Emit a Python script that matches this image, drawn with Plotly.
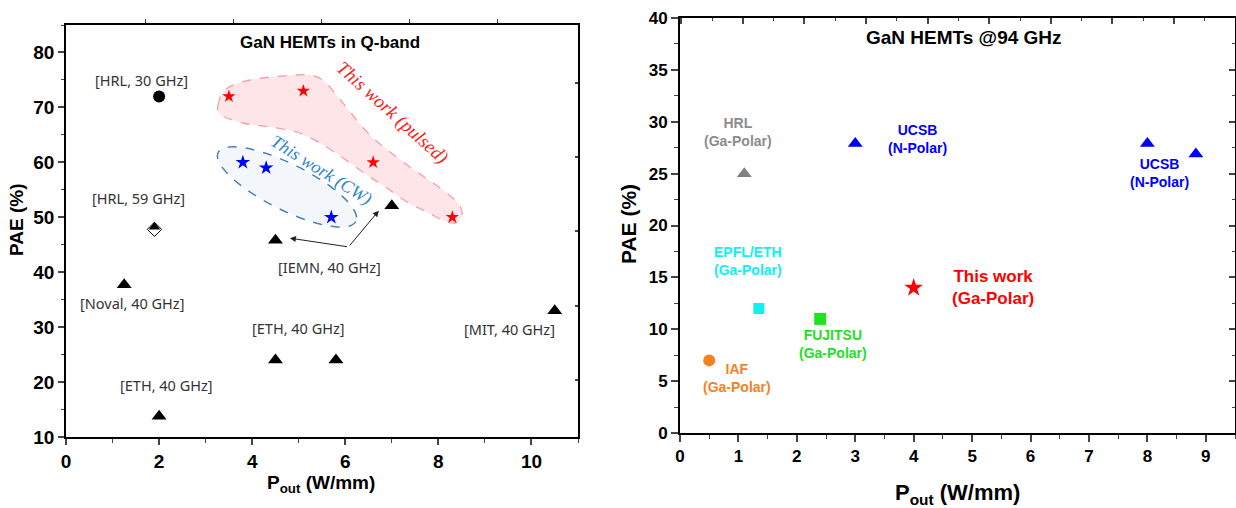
import math
import plotly.graph_objects as go

# ---------------- data: left chart (GaN HEMTs in Q-band) ----------------
hrl30_x = [2.0]
hrl30_y = [72.0]
hrl59_x = [1.9]
hrl59_y = [47.8]
noval_x = [1.25]
noval_y = [37.7]
eth_x = [2.0, 4.5, 5.8]
eth_y = [13.8, 24.0, 24.0]
iemn_x = [4.5, 7.0]
iemn_y = [45.8, 52.1]
mit_x = [10.5]
mit_y = [33.0]
pulsed_x = [3.5, 5.1, 6.6, 8.3]
pulsed_y = [72.0, 73.0, 60.0, 50.0]
cw_x = [3.8, 4.3, 5.7]
cw_y = [60.0, 59.0, 50.0]

left_labels = ["[HRL, 30 GHz]", "[HRL, 59 GHz]", "[Noval, 40 GHz]", "[ETH, 40 GHz]",
               "[ETH, 40 GHz]", "[IEMN, 40 GHz]", "[MIT, 40 GHz]"]
left_label_x = [1.63, 1.55, 1.41, 2.16, 5.0, 5.66, 9.53]
left_label_y = [75.0, 53.5, 34.4, 19.5, 29.9, 41.0, 29.7]

# ---------------- data: right chart (GaN HEMTs @94 GHz) ----------------
hrl_x = [1.1]
hrl_y = [25.0]
ucsb_x = [3.0, 8.0, 8.83]
ucsb_y = [27.9, 27.9, 26.9]
epfl_x = [1.35]
epfl_y = [12.0]
fujitsu_x = [2.4]
fujitsu_y = [11.0]
iaf_x = [0.5]
iaf_y = [7.0]
thiswork_x = [4.0]
thiswork_y = [14.0]

# ---------------- geometry ----------------
W, H = 1236, 508
L_px = (66, 578, 25, 437)      # left, right, top, bottom
R_px = (680, 1235, 18, 433)
L_xr, L_yr = [0, 11], [10, 85]
R_xr, R_yr = [0, 9.5], [0, 40]

def xdom(p):
    return [p[0] / W, p[1] / W]

def ydom(p):
    return [(H - p[3]) / H, (H - p[2]) / H]

def px2data(px, py):
    x = L_xr[0] + (px - L_px[0]) / (L_px[1] - L_px[0]) * (L_xr[1] - L_xr[0])
    y = L_yr[0] + (L_px[3] - py) / (L_px[3] - L_px[2]) * (L_yr[1] - L_yr[0])
    return x, y

def smooth_path(pts):
    n = len(pts)
    d = f"M{pts[0][0]:.4f},{pts[0][1]:.4f}"
    for i in range(n):
        p0, p1, p2, p3 = pts[i - 1], pts[i], pts[(i + 1) % n], pts[(i + 2) % n]
        c1 = (p1[0] + (p2[0] - p0[0]) / 6, p1[1] + (p2[1] - p0[1]) / 6)
        c2 = (p2[0] - (p3[0] - p1[0]) / 6, p2[1] - (p3[1] - p1[1]) / 6)
        d += f" C{c1[0]:.4f},{c1[1]:.4f} {c2[0]:.4f},{c2[1]:.4f} {p2[0]:.4f},{p2[1]:.4f}"
    return d + " Z"

# decorative outline of the "pulsed" region (pixel outline)
pulsed_outline_px = [(218, 105), (226, 89), (250, 80), (283, 76), (310, 75), (324, 81),
                     (334, 92), (347, 108), (367, 132), (390, 152), (417, 172), (440, 188),
                     (457, 202), (462, 213), (458, 222), (447, 222), (427, 212), (407, 202),
                     (387, 188), (367, 175), (343, 158), (320, 143), (297, 132), (270, 127),
                     (243, 123), (221, 115)]
pulsed_path = smooth_path([px2data(*p) for p in pulsed_outline_px])

# CW ellipse (pixel center, semi axes, angle)
cx, cy, ea, eb, th = 287, 187, 77, 23, math.radians(26.6)
cw_pts = []
for k in range(24):
    t = 2 * math.pi * k / 24
    u, v = ea * math.cos(t), eb * math.sin(t)
    cw_pts.append(px2data(cx + u * math.cos(th) - v * math.sin(th),
                          cy + u * math.sin(th) + v * math.cos(th)))
cw_path = smooth_path(cw_pts)

FONT = "Liberation Sans"
fig = go.Figure()

def add(x, y, symbol, size, color, xa="x", ya="y", line=None):
    fig.add_trace(go.Scatter(
        x=x, y=y, mode="markers", xaxis=xa, yaxis=ya, showlegend=False, hoverinfo="skip",
        marker=dict(symbol=symbol, size=size, color=color,
                    line=line if line else dict(width=0))))

# left markers
add(hrl30_x, hrl30_y, "circle", 12, "black")
add(hrl59_x, hrl59_y, "diamond-open", 11, "black", line=dict(width=1, color="black"))
tri_off = 0.43 * 5.75 * (L_yr[1] - L_yr[0]) / (L_px[3] - L_px[2])
add(hrl59_x, [v + tri_off for v in hrl59_y], "triangle-up", 10, "black")
add(noval_x, noval_y, "triangle-up", 13, "black")
add(eth_x, eth_y, "triangle-up", 13, "black")
add(iemn_x, iemn_y, "triangle-up", 13, "black")
add(mit_x, mit_y, "triangle-up", 13, "black")
add(pulsed_x, pulsed_y, "star", 10, "#ff0000")
add(cw_x, cw_y, "star", 11, "#0000ff")

# right markers
add(hrl_x, hrl_y, "triangle-up", 13, "#808080", "x2", "y2")
add(ucsb_x, ucsb_y, "triangle-up", 13, "#0000ff", "x2", "y2")
add(epfl_x, epfl_y, "square", 11, "#11f0f0", "x2", "y2")
add(fujitsu_x, fujitsu_y, "square", 12, "#22e022", "x2", "y2")
add(iaf_x, iaf_y, "circle", 12, "#f5821f", "x2", "y2")
add(thiswork_x, thiswork_y, "star", 14, "#ff0000", "x2", "y2")

# dummy traces for the overlay tick axes
fig.add_trace(go.Scatter(x=[None], y=[None], xaxis="x3", yaxis="y3", showlegend=False))
fig.add_trace(go.Scatter(x=[None], y=[None], xaxis="x4", yaxis="y4", showlegend=False))

# shapes
fig.add_shape(type="path", path=pulsed_path, xref="x", yref="y", layer="below",
              fillcolor="rgba(248,170,178,0.3)",
              line=dict(color="#f2a0b0", width=1.3, dash="dash"))
fig.add_shape(type="path", path=cw_path, xref="x", yref="y", layer="below",
              fillcolor="rgba(225,235,246,0.4)",
              line=dict(color="#4f81b8", width=1.5, dash="dash"))

ann = []
for t, x, y in zip(left_labels, left_label_x, left_label_y):
    ann.append(dict(text=t, x=x, y=y, xref="x", yref="y", showarrow=False,
                    xanchor="center", yanchor="middle",
                    font=dict(family="Noto Sans", size=14.5, color="#333333")))
# IEMN arrows
bend_x, bend_y = 6.07, 44.6
for tx, ty in [(4.81, 46.2), (6.72, 51.2)]:
    ann.append(dict(text="", x=tx, y=ty, ax=bend_x, ay=bend_y, xref="x", yref="y",
                    axref="x", ayref="y", showarrow=True, arrowhead=2, arrowsize=1.2,
                    arrowwidth=1, arrowcolor="#222222"))
ann.append(dict(text="This work (pulsed)", x=7.02, y=69.0, xref="x", yref="y",
                showarrow=False, textangle=42, xanchor="center", yanchor="middle",
                font=dict(family="Liberation Serif", size=19, color="#ff2020",
                          style="italic")))
ann.append(dict(text="This work (CW)", x=5.49, y=58.6, xref="x", yref="y",
                showarrow=False, textangle=32, xanchor="center", yanchor="middle",
                font=dict(family="Liberation Serif", size=18, color="#2f86c8",
                          style="italic")))

def paper_text(text, px, py, size, angle=0):
    ann.append(dict(text=text, x=px / W, y=1 - py / H, xref="paper", yref="paper",
                    showarrow=False, xanchor="center", yanchor="middle", textangle=angle,
                    font=dict(family=FONT, size=size, color="black")))

paper_text("<b>GaN HEMTs in Q-band</b>", 330, 43, 17)
paper_text("<b>PAE (%)</b>", 16, 220, 19, -90)
paper_text("<b>P<sub>out</sub> (W/mm)</b>", 321, 484, 19)

# right annotations
right_labels = [
    ("HRL<br>(Ga-Polar)", 0.99, 29.0, "#8c8c8c", 14),
    ("UCSB<br>(N-Polar)", 4.07, 28.35, "#0000ff", 14),
    ("UCSB<br>(N-Polar)", 8.2, 25.05, "#0000ff", 14),
    ("EPFL/ETH<br>(Ga-Polar)", 1.16, 16.6, "#11f0f0", 14),
    ("FUJITSU<br>(Ga-Polar)", 2.62, 8.6, "#22e022", 14),
    ("IAF<br>(Ga-Polar)", 0.97, 5.3, "#f5821f", 14),
    ("This work<br>(Ga-Polar)", 5.35, 14.0, "#ff0000", 17),
]
for t, x, y, c, s in right_labels:
    ann.append(dict(text=f"<b>{t}</b>", x=x, y=y, xref="x2", yref="y2", showarrow=False,
                    xanchor="center", yanchor="middle",
                    font=dict(family=FONT, size=s, color=c)))
paper_text("<b>GaN HEMTs @94 GHz</b>", 964, 38, 19)
paper_text("<b>PAE (%)</b>", 628, 224, 21, -90)
paper_text("<b>P<sub>out</sub> (W/mm)</b>", 958, 494, 22)

tick_l = dict(family=FONT, size=19, color="black", weight="bold")
tick_r = dict(family=FONT, size=17, color="black", weight="bold")
common = dict(showgrid=False, zeroline=False, showline=True, linecolor="black",
              automargin=False)

fig.update_layout(
    width=W, height=H, margin=dict(l=0, r=0, t=0, b=0, autoexpand=False),
    paper_bgcolor="white", plot_bgcolor="rgba(0,0,0,0)", showlegend=False,
    annotations=ann,
    xaxis=dict(domain=xdom(L_px), range=L_xr, anchor="y", dtick=2, tick0=0,
               ticks="outside", ticklen=6, tickwidth=1.5, linewidth=1.5,
               minor=dict(dtick=1, ticks="outside", ticklen=4, tickwidth=1.2),
               tickfont=tick_l, **common),
    yaxis=dict(domain=ydom(L_px), range=L_yr, anchor="x", dtick=10, tick0=0,
               ticks="outside", ticklen=6, tickwidth=1.5, linewidth=1.5,
               minor=dict(dtick=5, ticks="outside", ticklen=3, tickwidth=1.2),
               tickfont=tick_l, **common),
    xaxis3=dict(domain=xdom(L_px), range=L_xr, overlaying="x", anchor="y", side="top",
                tickmode="linear", tick0=1.717, dtick=1.888, ticks="outside", ticklen=4,
                tickwidth=1.2, showticklabels=False, linewidth=1.5, **common),
    yaxis3=dict(domain=ydom(L_px), range=L_yr, overlaying="y", anchor="x", side="right",
                tickmode="linear", tick0=20.38, dtick=13.53, ticks="inside", ticklen=3,
                tickwidth=1.5, showticklabels=False, linewidth=1.5, **common),
    xaxis2=dict(domain=xdom(R_px), range=R_xr, anchor="y2", dtick=1, tick0=0,
                ticks="outside", ticklen=7, tickwidth=1.5, linewidth=2,
                minor=dict(dtick=0.5, ticks="outside", ticklen=4, tickwidth=1.2),
                tickfont=tick_r, **common),
    yaxis2=dict(domain=ydom(R_px), range=R_yr, anchor="x2", dtick=5, tick0=0,
                ticks="outside", ticklen=7, tickwidth=1.5, linewidth=2,
                minor=dict(dtick=2.5, ticks="outside", ticklen=4, tickwidth=1.2),
                tickfont=tick_r, **common),
    xaxis4=dict(domain=xdom(R_px), range=[-0.02, 8.99], overlaying="x2", anchor="y2",
                side="top", dtick=1, tick0=0, ticks="inside", ticklen=6, tickwidth=1.5,
                minor=dict(dtick=0.5, ticks="inside", ticklen=3, tickwidth=1.2),
                showticklabels=False, linewidth=2, **common),
    yaxis4=dict(domain=ydom(R_px), range=R_yr, overlaying="y2", anchor="x2", side="right",
                dtick=5, tick0=0, ticks="inside", ticklen=6, tickwidth=1.5,
                minor=dict(dtick=2.5, ticks="inside", ticklen=3, tickwidth=1.2),
                showticklabels=False, linewidth=2, **common),
)

fig.write_html("out.html", config={"displayModeBar": False},
               post_script="document.body.style.margin='0';document.body.style.overflow='hidden';")
